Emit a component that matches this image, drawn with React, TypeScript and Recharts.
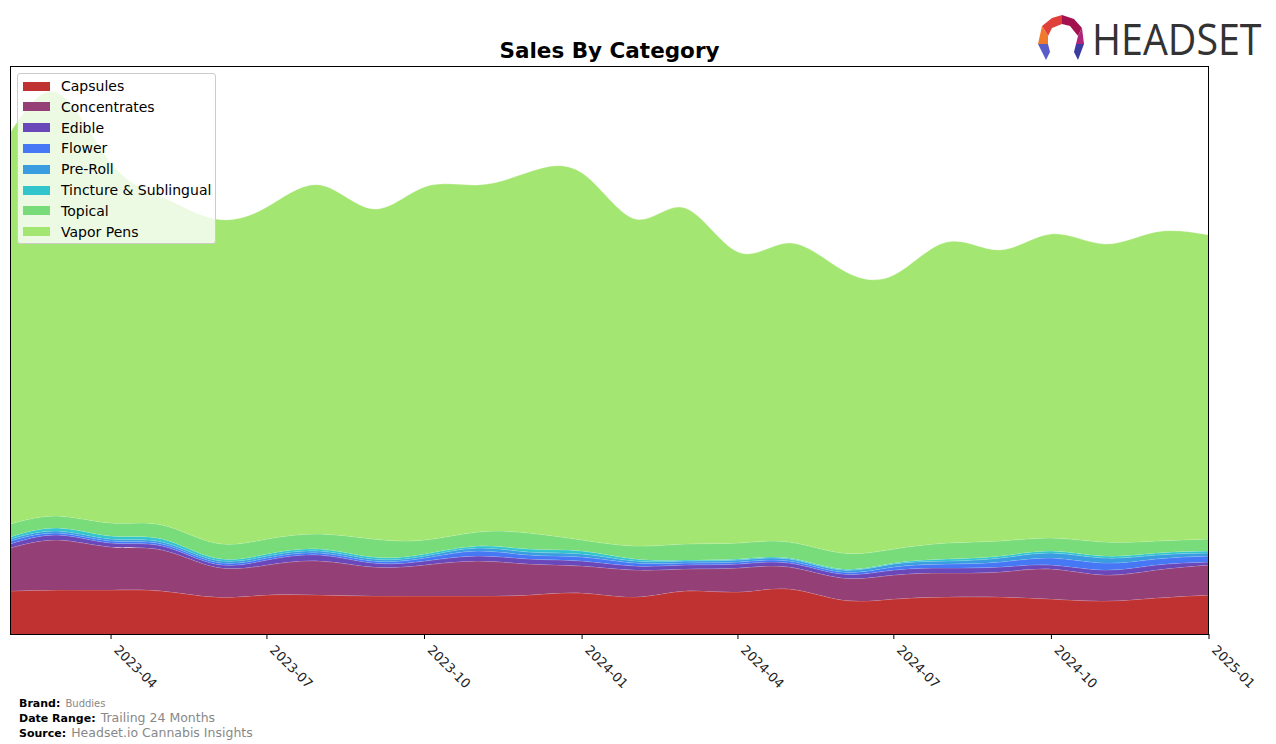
import { AreaChart, Area, XAxis, YAxis } from 'recharts';

// monthly points, values (relative sales units)
const months = ['2023-02', '2023-03', '2023-04', '2023-05', '2023-06', '2023-07', '2023-08', '2023-09', '2023-10', '2023-11', '2023-12',
  '2024-01', '2024-02', '2024-03', '2024-04', '2024-05', '2024-06', '2024-07', '2024-08', '2024-09', '2024-10', '2024-11', '2024-12', '2025-01'];

const capsules = [44, 45, 45, 44, 38, 40, 40, 39, 39, 39, 40, 42, 38, 44, 43, 46, 35, 36, 38, 38, 36, 34, 37, 40];
const concentrates = [43, 50, 43, 41, 30, 30, 34, 29, 31, 35, 31, 27, 27, 22, 24, 22, 22, 24, 24, 25, 30, 26, 28, 30];
const edible = [4, 5, 4, 4, 3, 5, 6, 4, 4, 5, 5, 5, 4, 4, 4, 4, 4, 5, 5, 5, 4, 5, 5, 3];
const flower = [3, 2, 2, 2, 2, 2, 2, 2, 3, 5, 4, 4, 3, 2, 2, 2, 2, 3, 4, 5, 7, 7, 6, 6];
const preRoll = [2, 2, 2, 2, 2, 2, 2, 2, 2, 3, 3, 3, 2, 2, 2, 2, 2, 3, 3, 4, 5, 5, 4, 3];
const tincture = [2, 3, 3, 3, 2, 2, 2, 2, 2, 2, 3, 3, 2, 1, 1, 1, 1, 1, 2, 2, 2, 2, 2, 2];
const topical = [13, 12, 13, 14, 15, 15, 15, 18, 14, 14, 16, 11, 13, 16, 16, 16, 16, 14, 16, 15, 13, 14, 12, 12];
const vaporPens = [391, 423, 360, 328, 324, 332, 349, 330, 353, 347, 361, 367, 327, 336, 291, 299, 283, 274, 301, 291, 304, 298, 309, 304];

const tickLabels = ['2023-04', '2023-07', '2023-10', '2024-01', '2024-04', '2024-07', '2024-10', '2025-01'];

const series = [
  { key: 'Capsules', color: '#C03231', values: capsules },
  { key: 'Concentrates', color: '#943F76', values: concentrates },
  { key: 'Edible', color: '#6A48B9', values: edible },
  { key: 'Flower', color: '#4677F5', values: flower },
  { key: 'Pre-Roll', color: '#3A9DE0', values: preRoll },
  { key: 'Tincture & Sublingual', color: '#33C5CC', values: tincture },
  { key: 'Topical', color: '#79DC7A', values: topical },
  { key: 'Vapor Pens', color: '#A4E672', values: vaporPens },
];

const toTs = (m: string) => {
  const [y, mo] = m.split('-').map(Number);
  return Date.UTC(y, mo - 1, 1);
};

const fmt = (ts: number) => {
  const d = new Date(ts);
  return `${d.getUTCFullYear()}-${String(d.getUTCMonth() + 1).padStart(2, '0')}`;
};

const chartData = months.map((m, i) => {
  const row: any = { t: toTs(m) };
  series.forEach(s => { row[s.key] = s.values[i]; });
  return row;
});

const font = '"DejaVu Sans", sans-serif';

const DateTick = (props: any) => {
  const { x, y, payload } = props;
  return (
    <g transform={`translate(${x},${y})`}>
      <line x1={0} y1={-9} x2={0} y2={-4} stroke="#000" strokeWidth={1} />
      <text x={7} y={4} transform="rotate(45)" textAnchor="start" fontSize={13} fontFamily={font} fill="#222">
        {fmt(payload.value)}
      </text>
    </g>
  );
};

function Logo() {
  return (
    <svg width={242} height={70} style={{ position: 'absolute', left: 1034, top: 0 }}>
      <g transform="translate(0,10)">
        <polygon points="8,16 18,8 28,5 28,14 18,18 14,26" fill="#E0403A" />
        <polygon points="28,5 40,9 48,18 44,26 36,16 28,14" fill="#A3124E" />
        <polygon points="8,16 14,26 14,34 4,34" fill="#F07A2A" />
        <polygon points="48,18 50,34 42,34 44,26" fill="#B0237A" />
        <polygon points="4,34 14,34 16,42 12,50" fill="#5A5CC8" />
        <polygon points="50,34 42,34 40,42 44,50" fill="#3B3BA0" />
      </g>
      <g transform="translate(58,55) scale(0.895,1)">
        <text x={0} y={0} fontSize={44} fontFamily='"Open Sans", "DejaVu Sans", sans-serif' fill="#333">HEADSET</text>
      </g>
    </svg>
  );
}

export default function App() {
  return (
    <div style={{ position: 'absolute', left: 0, top: 0, width: 1276, height: 744, background: '#fff', fontFamily: font }}>
      <div style={{ position: 'absolute', left: 10, top: 38, width: 1199, textAlign: 'center', fontSize: 21.5, fontWeight: 'bold', color: '#000', lineHeight: '26px' }}>
        Sales By Category
      </div>
      <Logo />
      <AreaChart width={1276} height={744} data={chartData}
        margin={{ top: 66, left: 10, right: 67, bottom: 49 }}>
        <XAxis dataKey="t" type="number" scale="time" domain={[toTs(months[0]), toTs(months[months.length - 1])]}
          ticks={tickLabels.map(toTs)} tick={<DateTick />} tickLine={false} axisLine={false} height={60} interval={0} />
        <YAxis hide domain={[0, 569]} allowDataOverflow />
        {series.map(s => (
          <Area key={s.key} type="natural" dataKey={s.key} stackId="1" fill={s.color} fillOpacity={1}
            stroke="rgba(255,255,255,0.35)" strokeWidth={0.8} isAnimationActive={false} />
        ))}
      </AreaChart>
      <div style={{ position: 'absolute', left: 10, top: 66, width: 1199, height: 569, border: '1px solid #000', boxSizing: 'border-box', pointerEvents: 'none', marginLeft: -0.5 }} />
      <div style={{ position: 'absolute', left: 17, top: 73, width: 199, height: 171, boxSizing: 'border-box', background: 'rgba(255,255,255,0.8)', border: '1px solid #ccc', borderRadius: 3 }}>
        {series.map((s, i) => (
          <div key={s.key} style={{ position: 'absolute', left: 5, top: 5 + i * 20.8, height: 14, display: 'flex', alignItems: 'center' }}>
            <div style={{ width: 27, height: 9, background: s.color }} />
            <span style={{ marginLeft: 11, fontSize: 14, color: '#000', whiteSpace: 'nowrap' }}>{s.key}</span>
          </div>
        ))}
      </div>
      <div style={{ position: 'absolute', left: 19, top: 695, lineHeight: '13px', color: '#000' }}>
        <div><b style={{ fontSize: 11 }}>Brand:</b> <span style={{ fontSize: 10, color: '#888' }}>Buddies</span></div>
        <div><b style={{ fontSize: 11 }}>Date Range:</b> <span style={{ fontSize: 12.5, color: '#888' }}>Trailing 24 Months</span></div>
        <div><b style={{ fontSize: 11 }}>Source:</b> <span style={{ fontSize: 12.5, color: '#888' }}>Headset.io Cannabis Insights</span></div>
      </div>
    </div>
  );
}
